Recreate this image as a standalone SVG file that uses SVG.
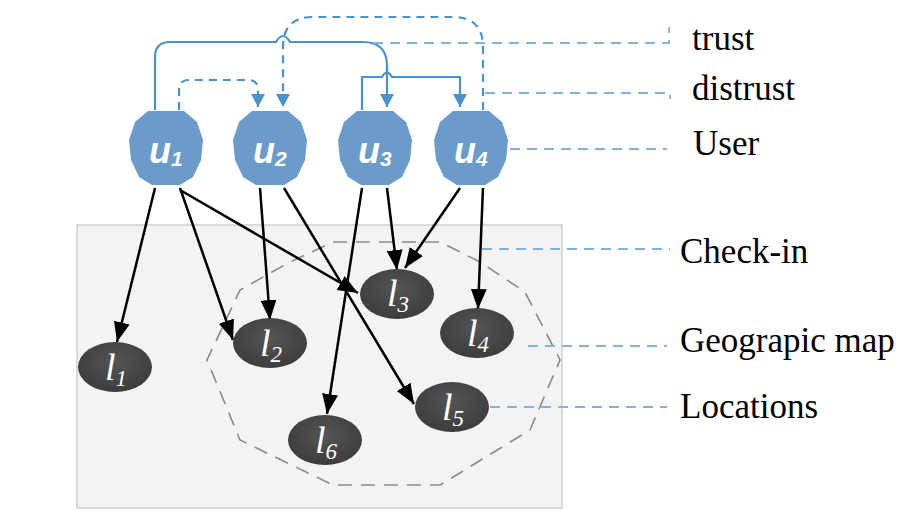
<svg xmlns="http://www.w3.org/2000/svg" width="906" height="511" viewBox="0 0 906 511">
<style>
.user{fill:#6b9bcb;}
.ulab{font-family:"Liberation Sans",Arial,sans-serif;font-weight:bold;font-style:italic;font-size:36px;fill:#fff;}
.usub{font-size:21px;}
.loc{fill:url(#lg);}
.llab{font-family:"Liberation Serif","Times New Roman",serif;font-style:italic;font-size:38px;fill:#fff;}
.lsub{font-size:23px;}
.chk{stroke:#000;stroke-width:2.5;fill:none;marker-end:url(#ah);}
.tr{stroke:#4a92cb;stroke-width:2.2;fill:none;}
.ds{stroke:#4a92cb;stroke-width:2.2;fill:none;stroke-dasharray:8 6;}
.leg{stroke:#7fb3dc;stroke-width:1.8;fill:none;stroke-dasharray:10 7;}
.ltxt{font-family:"Liberation Serif","Times New Roman",serif;font-size:35px;fill:#000;}
</style>
<defs>
<marker id="ah" markerUnits="userSpaceOnUse" markerWidth="22" markerHeight="18" refX="20" refY="8" orient="auto"><path d="M0,0 L20,8 L0,16 Z" fill="#000"/></marker>
<marker id="bh" markerUnits="userSpaceOnUse" markerWidth="16" markerHeight="16" refX="13" refY="7" orient="auto"><path d="M0,0 L13,7 L0,14 Z" fill="#4a92cb"/></marker>
<radialGradient id="lg" cx="50%" cy="40%" r="60%"><stop offset="0" stop-color="#555"/><stop offset="1" stop-color="#3c3c3c"/></radialGradient>
<polygon id="oct" points="-18,-37 18,-37 31,-26 37,-8 35,12 27,29 14,37 -14,37 -27,29 -35,12 -37,-8 -31,-26"/>
</defs>
<rect width="906" height="511" fill="#fff"/>
<g id="map-area">
<rect x="77" y="225" width="485" height="283" fill="#f3f3f3" stroke="#cfcfcf" stroke-width="1.5"/>
<polygon points="333,242 440,242 480,262 525,292 560,360 530,430 440,485 333,485 240,440 207,360 240,290 290,262" fill="none" stroke="#8a8a8a" stroke-width="1.6" stroke-dasharray="14 9"/>
</g>
<g id="connectors">
<path class="tr" d="M155,110 V57 Q155,42 170,42 H276 Q283,30 290,42 H363 Q387,42 387,66 V107" marker-end="url(#bh)"/>
<path class="tr" d="M362,110 V77 H382 Q387,68 392,77 H460 V107" marker-end="url(#bh)"/>
<path class="ds" d="M179,110 V90 Q179,80 189,80 H248 Q258,80 258,90 V107" marker-end="url(#bh)"/>
<path class="ds" d="M483,110 V47 Q483,17 453,17 H313 Q283,17 283,47 V107" marker-end="url(#bh)"/>
<path class="chk" d="M155,188 L117,342"/>
<path class="chk" d="M180,188 L233,340"/>
<path class="chk" d="M180,190 L358,293"/>
<path class="chk" d="M260,188 L270,320"/>
<path class="chk" d="M284,188 L414,404"/>
<path class="chk" d="M362,188 L327,414"/>
<path class="chk" d="M387,188 L397,270"/>
<path class="chk" d="M460,188 L405,268"/>
<path class="chk" d="M483,188 L478,309"/>
<path class="leg" d="M373,43 H669 V27"/>
<path class="leg" d="M485,93 H670 V99"/>
<path class="leg" d="M510,149 H667"/>
<path class="leg" d="M482,249 H670"/>
<path class="leg" d="M528,346 H667"/>
<path class="leg" d="M490,407 H667"/>
</g>
<g id="u1"><use href="#oct" class="user" x="166" y="148"/><text class="ulab" x="149" y="163">u<tspan class="usub" dy="3">1</tspan></text></g>
<g id="u2"><use href="#oct" class="user" x="270" y="148"/><text class="ulab" x="253" y="163">u<tspan class="usub" dy="3">2</tspan></text></g>
<g id="u3"><use href="#oct" class="user" x="375" y="148"/><text class="ulab" x="358" y="163">u<tspan class="usub" dy="3">3</tspan></text></g>
<g id="u4"><use href="#oct" class="user" x="471" y="148"/><text class="ulab" x="454" y="163">u<tspan class="usub" dy="3">4</tspan></text></g>
<g id="l1"><ellipse class="loc" cx="115" cy="367" rx="37" ry="25"/><text class="llab" x="105" y="380">l<tspan class="lsub" dy="6">1</tspan></text></g>
<g id="l2"><ellipse class="loc" cx="270" cy="343" rx="37" ry="25"/><text class="llab" x="260" y="356">l<tspan class="lsub" dy="6">2</tspan></text></g>
<g id="l3"><ellipse class="loc" cx="397" cy="294" rx="37" ry="25"/><text class="llab" x="387" y="306">l<tspan class="lsub" dy="6">3</tspan></text></g>
<g id="l4"><ellipse class="loc" cx="477" cy="333" rx="37" ry="25"/><text class="llab" x="467" y="346">l<tspan class="lsub" dy="6">4</tspan></text></g>
<g id="l5"><ellipse class="loc" cx="452" cy="407" rx="37" ry="25"/><text class="llab" x="442" y="420">l<tspan class="lsub" dy="6">5</tspan></text></g>
<g id="l6"><ellipse class="loc" cx="325" cy="440" rx="37" ry="25"/><text class="llab" x="315" y="453">l<tspan class="lsub" dy="6">6</tspan></text></g>
<g id="legend">
<text class="ltxt" x="692" y="50">trust</text>
<text class="ltxt" x="692" y="100">distrust</text>
<text class="ltxt" x="693" y="155">User</text>
<text class="ltxt" x="680" y="263">Check-in</text>
<text class="ltxt" x="680" y="352">Geograpic map</text>
<text class="ltxt" x="680" y="418">Locations</text>
</g>
</svg>
